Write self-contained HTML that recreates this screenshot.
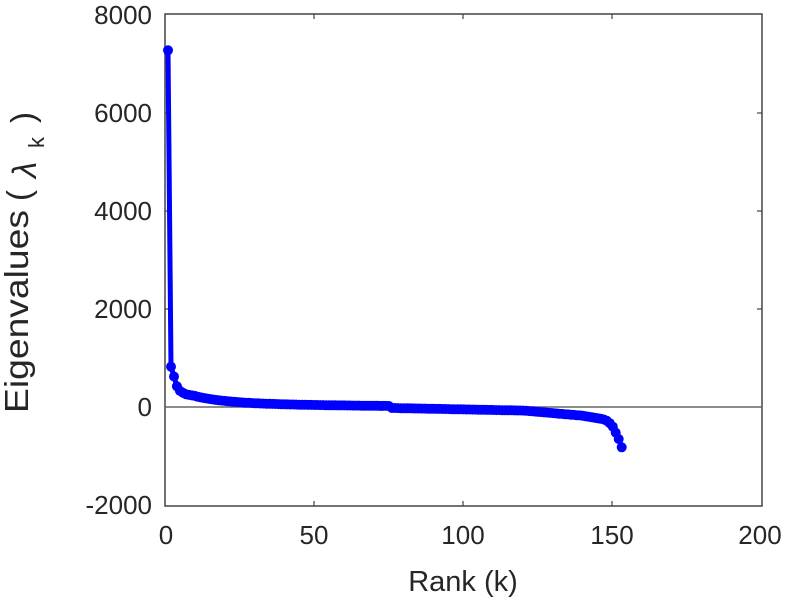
<!DOCTYPE html>
<html><head><style>
body{margin:0;background:#fff;}
svg text{font-family:"Liberation Sans",sans-serif;fill:#262626;}
</style></head><body>
<svg id="s" width="792" height="600" xmlns="http://www.w3.org/2000/svg">
<rect x="165" y="14" width="597" height="492" fill="#fff" stroke="#444" stroke-width="1.5"/>
<line x1="165" y1="407" x2="762" y2="407" stroke="#666" stroke-width="1.5"/>
<g stroke="#444" stroke-width="1.2">
<line x1="165" y1="113" x2="170" y2="113"/><line x1="165" y1="211" x2="170" y2="211"/><line x1="165" y1="309" x2="170" y2="309"/>
<line x1="762" y1="113" x2="757" y2="113"/><line x1="762" y1="211" x2="757" y2="211"/><line x1="762" y1="309" x2="757" y2="309"/>
<line x1="314" y1="506" x2="314" y2="501"/><line x1="463" y1="506" x2="463" y2="501"/><line x1="612" y1="506" x2="612" y2="501"/>
<line x1="314" y1="14" x2="314" y2="19"/><line x1="463" y1="14" x2="463" y2="19"/><line x1="612" y1="14" x2="612" y2="19"/>
</g>
<g font-size="26" text-anchor="end">
<text x="152" y="24">8000</text><text x="152" y="122">6000</text><text x="152" y="220">4000</text>
<text x="152" y="318">2000</text><text x="152" y="416">0</text><text x="152" y="514">-2000</text>
</g>
<g font-size="26" text-anchor="middle">
<text x="166" y="544">0</text><text x="314" y="544">50</text><text x="463" y="544">100</text>
<text x="612" y="544">150</text><text x="760" y="544">200</text>
<text x="463" y="591" font-size="29">Rank (k)</text>
</g>
<g transform="rotate(-90)" font-size="33">
<text x="-413" y="28" textLength="203" lengthAdjust="spacingAndGlyphs">Eigenvalues</text>
<text x="-201" y="30">(</text>
<text x="-178" y="36" font-style="italic">λ</text>
<text x="-148" y="44" font-size="22">k</text>
<text x="-123" y="34">)</text>
</g>
<g id="d"></g>
</svg>
<script>
function v(k){
 var t={1:7250,2:820,3:620,4:420,5:330,6:290,7:260,8:245,9:235,10:225};
 if(t[k])return t[k];
 if(k<=75) return 60+160*Math.exp(-(k-10)/12)-40*(k-10)/65;
 if(k<=140) return -20-(k-76)*1.2-(k>120?(k-120)*4:0);
 var e={141:-190,142:-200,143:-210,144:-220,145:-230,146:-240,147:-255,148:-280,149:-330,150:-400,151:-520,152:-650,153:-820};
 return e[k];
}
var pts=[],s='';
for(var k=1;k<=153;k++){var x=165+k*2.985,y=407-v(k)*0.0492;pts.push(x.toFixed(1)+','+y.toFixed(1));s+='<circle cx="'+x.toFixed(1)+'" cy="'+y.toFixed(1)+'" r="5" fill="#0000ff"/>';}
document.getElementById('d').innerHTML='<polyline points="'+pts.join(' ')+'" fill="none" stroke="#0000ff" stroke-width="5"/>'+s;
</script>
</body></html>
